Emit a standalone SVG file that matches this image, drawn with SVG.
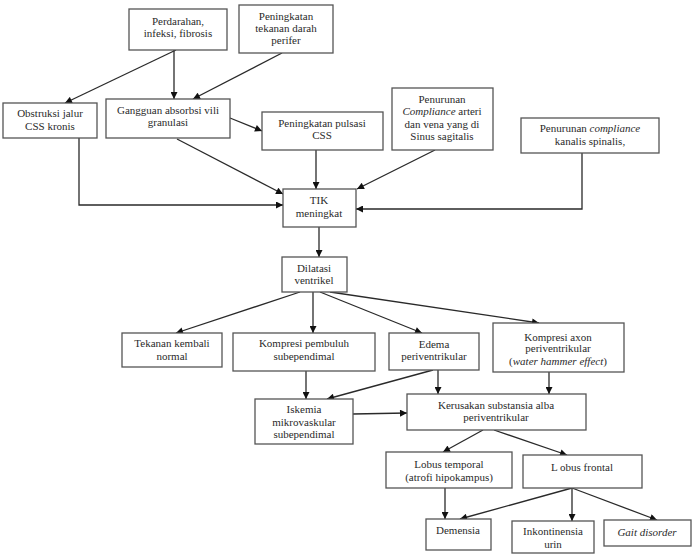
<svg xmlns="http://www.w3.org/2000/svg" width="693" height="558" viewBox="0 0 693 558">
  <style>
    .box { fill: #ffffff; stroke: #555555; stroke-width: 1.3; }
    .lbl { font-size: 11px; fill: #2a2a2a; text-anchor: middle; }
    .it { font-style: italic; }
    .con { fill: none; stroke: #2a2a2a; stroke-width: 1.3; marker-end: url(#ah); }
  </style>
  <defs>
    <marker id="ah" viewBox="0 0 10 10" refX="10" refY="5" markerWidth="8" markerHeight="7" markerUnits="userSpaceOnUse" orient="auto">
      <path d="M0,0 L10,5 L0,10 Z" fill="#111111"/>
    </marker>
  </defs>
  <rect width="693" height="558" fill="#ffffff"/>

  <g id="connectors">
    <!-- top causes -->
    <line class="con" x1="176" y1="50" x2="65" y2="103"/>
    <line class="con" x1="174" y1="50" x2="174" y2="99"/>
    <line class="con" x1="282" y1="53" x2="193" y2="99"/>
    <line class="con" x1="230" y1="118" x2="262" y2="131"/>
    <!-- into TIK meningkat -->
    <polyline class="con" points="79,138 79,205 283,205"/>
    <line class="con" x1="177" y1="139" x2="283" y2="194"/>
    <line class="con" x1="316" y1="150" x2="316" y2="189"/>
    <line class="con" x1="435" y1="150" x2="357" y2="189"/>
    <polyline class="con" points="582,153 582,209 356,209"/>
    <!-- TIK to dilatasi -->
    <line class="con" x1="319" y1="227" x2="319" y2="257"/>
    <!-- dilatasi fan-out -->
    <line class="con" x1="300" y1="292" x2="176" y2="333"/>
    <line class="con" x1="313" y1="292" x2="313" y2="333"/>
    <line class="con" x1="320" y1="292" x2="422" y2="333"/>
    <line class="con" x1="330" y1="292" x2="539" y2="323"/>
    <!-- middle layer -->
    <line class="con" x1="306" y1="371" x2="306" y2="399"/>
    <line class="con" x1="433" y1="370" x2="327" y2="399"/>
    <line class="con" x1="438" y1="370" x2="438" y2="394"/>
    <line class="con" x1="549" y1="372" x2="549" y2="394"/>
    <line class="con" x1="353" y1="414" x2="407" y2="413"/>
    <!-- lobes -->
    <line class="con" x1="483" y1="430" x2="443" y2="452"/>
    <line class="con" x1="494" y1="430" x2="567" y2="455"/>
    <line class="con" x1="445" y1="488" x2="445" y2="519"/>
    <line class="con" x1="572" y1="488" x2="460" y2="519"/>
    <line class="con" x1="572" y1="488" x2="572" y2="521"/>
    <line class="con" x1="572" y1="488" x2="657" y2="520"/>
  </g>

  <g font-family="'Liberation Serif', 'Times New Roman', 'DejaVu Serif', serif">
  <g id="perdarahan">
    <rect class="box" x="129" y="9" width="98" height="41"/>
    <text class="lbl" x="178" y="25">Perdarahan,</text>
    <text class="lbl" x="178" y="37">infeksi, fibrosis</text>
  </g>
  <g id="tekanan-darah">
    <rect class="box" x="239" y="5" width="94" height="48"/>
    <text class="lbl" x="286" y="20">Peningkatan</text>
    <text class="lbl" x="286" y="32">tekanan darah</text>
    <text class="lbl" x="286" y="44">perifer</text>
  </g>
  <g id="obstruksi">
    <rect class="box" x="3" y="103" width="94" height="35"/>
    <text class="lbl" x="50" y="117">Obstruksi jalur</text>
    <text class="lbl" x="50" y="130">CSS kronis</text>
  </g>
  <g id="gangguan">
    <rect class="box" x="106" y="99" width="124" height="39"/>
    <text class="lbl" x="168" y="114">Gangguan absorbsi vili</text>
    <text class="lbl" x="168" y="126">granulasi</text>
  </g>
  <g id="pulsasi">
    <rect class="box" x="262" y="112" width="121" height="38"/>
    <text class="lbl" x="322" y="127">Peningkatan pulsasi</text>
    <text class="lbl" x="322" y="139">CSS</text>
  </g>
  <g id="compliance-sinus">
    <rect class="box" x="392" y="88" width="101" height="62"/>
    <text class="lbl" x="442" y="103">Penurunan</text>
    <text class="lbl" x="442" y="115"><tspan class="it">Compliance</tspan> arteri</text>
    <text class="lbl" x="442" y="128">dan vena yang di</text>
    <text class="lbl" x="442" y="140">Sinus sagitalis</text>
  </g>
  <g id="compliance-spinal">
    <rect class="box" x="521" y="118" width="138" height="35"/>
    <text class="lbl" x="590" y="132">Penurunan <tspan class="it">compliance</tspan></text>
    <text class="lbl" x="590" y="145">kanalis spinalis,</text>
  </g>
  <g id="tik">
    <rect class="box" x="283" y="189" width="73" height="38"/>
    <text class="lbl" x="319" y="204">TIK</text>
    <text class="lbl" x="319" y="217">meningkat</text>
  </g>
  <g id="dilatasi">
    <rect class="box" x="282" y="257" width="65" height="35"/>
    <text class="lbl" x="314" y="272">Dilatasi</text>
    <text class="lbl" x="314" y="284">ventrikel</text>
  </g>
  <g id="tekanan-normal">
    <rect class="box" x="122" y="333" width="100" height="34"/>
    <text class="lbl" x="172" y="347">Tekanan kembali</text>
    <text class="lbl" x="172" y="360">normal</text>
  </g>
  <g id="kompresi-pembuluh">
    <rect class="box" x="233" y="333" width="142" height="38"/>
    <text class="lbl" x="304" y="347">Kompresi pembuluh</text>
    <text class="lbl" x="304" y="360">subependimal</text>
  </g>
  <g id="edema">
    <rect class="box" x="389" y="333" width="90" height="37"/>
    <text class="lbl" x="434" y="348">Edema</text>
    <text class="lbl" x="434" y="360">periventrikular</text>
  </g>
  <g id="kompresi-axon">
    <rect class="box" x="493" y="323" width="131" height="49"/>
    <text class="lbl" x="558" y="341">Kompresi axon</text>
    <text class="lbl" x="558" y="352">periventrikular</text>
    <text class="lbl" x="558" y="365">(<tspan class="it">water hammer effect</tspan>)</text>
  </g>
  <g id="iskemia">
    <rect class="box" x="255" y="399" width="98" height="45"/>
    <text class="lbl" x="304" y="413">Iskemia</text>
    <text class="lbl" x="304" y="426">mikrovaskular</text>
    <text class="lbl" x="304" y="438">subependimal</text>
  </g>
  <g id="kerusakan">
    <rect class="box" x="407" y="394" width="179" height="36"/>
    <text class="lbl" x="496" y="409">Kerusakan substansia alba</text>
    <text class="lbl" x="496" y="421">periventrikular</text>
  </g>
  <g id="lobus-temporal">
    <rect class="box" x="386" y="452" width="126" height="36"/>
    <text class="lbl" x="449" y="468">Lobus temporal</text>
    <text class="lbl" x="449" y="481">(atrofi hipokampus)</text>
  </g>
  <g id="lobus-frontal">
    <rect class="box" x="523" y="455" width="119" height="33"/>
    <text class="lbl" x="582" y="471">L obus frontal</text>
  </g>
  <g id="demensia">
    <rect class="box" x="426" y="519" width="65" height="31"/>
    <text class="lbl" x="458" y="534">Demensia</text>
  </g>
  <g id="inkontinensia">
    <rect class="box" x="512" y="521" width="82" height="32"/>
    <text class="lbl" x="553" y="535">Inkontinensia</text>
    <text class="lbl" x="553" y="548">urin</text>
  </g>
  <g id="gait">
    <rect class="box" x="604" y="520" width="87" height="26"/>
    <text class="lbl it" x="647" y="536">Gait disorder</text>
  </g>
  </g>
</svg>
